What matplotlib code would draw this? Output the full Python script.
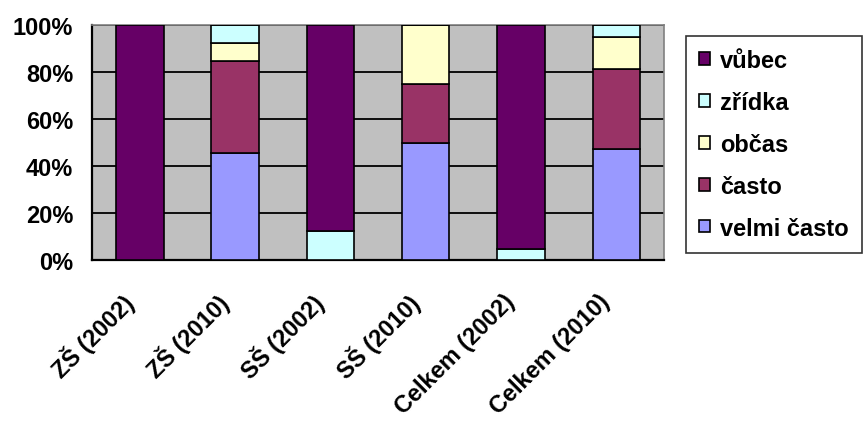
import matplotlib
matplotlib.use("Agg")
import matplotlib.pyplot as plt
from matplotlib.transforms import ScaledTranslation
import numpy as np

categories = ["ZŠ (2002)", "ZŠ (2010)", "SŠ (2002)", "SŠ (2010)", "Celkem (2002)", "Celkem (2010)"]
series_names = ["velmi často", "často", "občas", "zřídka", "vůbec"]
velmi_casto = [0.0, 45.5, 0.0, 50.0, 0.0, 47.2]
casto = [0.0, 39.3, 0.0, 25.0, 0.0, 34.1]
obcas = [0.0, 7.7, 0.0, 25.0, 0.0, 13.6]
zridka = [0.0, 7.5, 12.5, 0.0, 4.8, 5.1]
vubec = [100.0, 0.0, 87.5, 0.0, 95.2, 0.0]
colors = ["#9999FF", "#993366", "#FFFFCC", "#CCFFFF", "#660066"]
y_ticks = [0, 20, 40, 60, 80, 100]
y_tick_labels = ["0%", "20%", "40%", "60%", "80%", "100%"]

plt.rcParams["font.family"] = ["Liberation Sans", "DejaVu Sans"]
plt.rcParams["font.weight"] = "bold"

fig = plt.figure(figsize=(8.68, 4.27), dpi=100)
ax = fig.add_axes([92 / 868, 1 - 261 / 427, (664 - 92) / 868, (261 - 26) / 427])
ax.set_facecolor("#C0C0C0")

x = np.arange(len(categories))
bottom = np.zeros(len(categories))
handles = []
for name, vals, col in zip(series_names, [velmi_casto, casto, obcas, zridka, vubec], colors):
    vals = np.array(vals)
    b = ax.bar(x, vals, bottom=bottom, width=0.5, color=col, edgecolor="black",
               linewidth=1.2, label=name, zorder=3)
    handles.append(b)
    bottom += vals

ax.set_xlim(-0.5, len(categories) - 0.5)
ax.set_ylim(0, 100)
ax.set_yticks(y_ticks)
ax.set_yticklabels(y_tick_labels, fontsize=17, fontweight="bold")
ax.yaxis.grid(True, color="black", linewidth=1.3, zorder=1)
ax.set_axisbelow(True)
ax.tick_params(axis="y", length=0, pad=13.5)
ax.tick_params(axis="x", length=0, pad=0)
ax.set_xticks(x)
ax.set_xticklabels(categories, rotation=45, ha="right", va="center", rotation_mode="anchor",
                   fontsize=17, fontweight="bold")
shift = ScaledTranslation(-10 / 100, -38 / 100, fig.dpi_scale_trans)
for lab in ax.get_xticklabels():
    lab.set_transform(lab.get_transform() + shift)

for side in ["left", "bottom"]:
    ax.spines[side].set_color("black")
    ax.spines[side].set_linewidth(1.6)
for side in ["top", "right"]:
    ax.spines[side].set_color("#808080")
    ax.spines[side].set_linewidth(1.2)

leg = fig.legend(handles[::-1], series_names[::-1], loc="upper left",
                 bbox_to_anchor=(686 / 868, 1 - 37 / 427), frameon=True, fancybox=False,
                 edgecolor="black", prop={"size": 17, "weight": "bold"},
                 handlelength=0.45, handleheight=0.45, handletextpad=0.45,
                 labelspacing=0.8, borderpad=0.55, borderaxespad=0)
leg.get_frame().set_linewidth(1.2)

fig.savefig("out.png", dpi=100)
